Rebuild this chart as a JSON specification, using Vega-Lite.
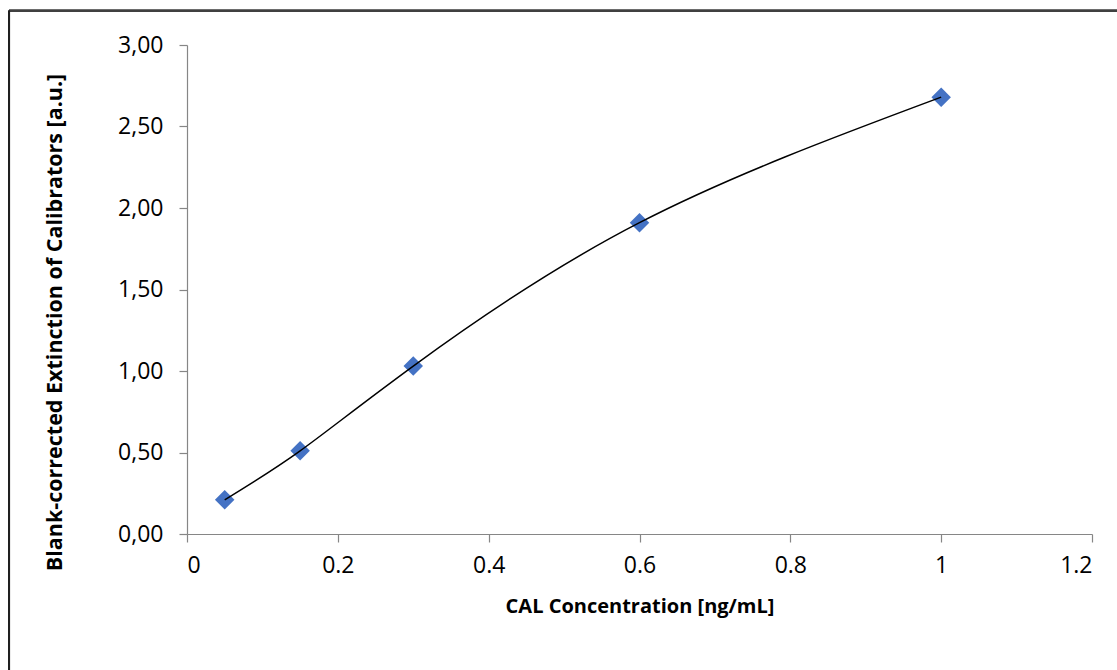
{
  "$schema": "https://vega.github.io/schema/vega-lite/v6.json",
  "autosize": "none",
  "width": 905,
  "height": 489,
  "padding": {"left": 187, "top": 45, "right": 25, "bottom": 136},
  "background": "white",
  "config": {
    "view": {"stroke": null},
    "font": "Open Sans",
    "axis": {
      "grid": false,
      "domainColor": "#868686",
      "domainWidth": 1.2,
      "tickColor": "#868686",
      "tickWidth": 1.2,
      "tickSize": 8,
      "labelFont": "Open Sans",
      "labelFontSize": 23,
      "labelColor": "#000000",
      "titleFont": "Open Sans",
      "titleFontSize": 20,
      "titleFontWeight": "bold",
      "titleColor": "#000000"
    }
  },
  "data": {
    "values": [
      {"conc": 0.05, "ext": 0.21},
      {"conc": 0.15, "ext": 0.51},
      {"conc": 0.3, "ext": 1.03},
      {"conc": 0.6, "ext": 1.91},
      {"conc": 1.0, "ext": 2.68}
    ]
  },
  "layer": [
    {
      "mark": {"type": "rule", "color": "#404040", "strokeWidth": 2},
      "encoding": {
        "x": {"datum": -0.236, "type": "quantitative", "scale": {"domain": [0, 1.2]}},
        "y": {"datum": 3.21, "type": "quantitative"},
        "x2": {"datum": 1.6}
      }
    },
    {
      "mark": {"type": "rule", "color": "#202020", "strokeWidth": 2},
      "encoding": {
        "x": {"datum": -0.236, "type": "quantitative"},
        "y": {"datum": 3.21, "type": "quantitative"},
        "y2": {"datum": -1}
      }
    },
    {
      "mark": {"type": "point", "shape": "diamond", "filled": true, "size": 380, "color": "#4472C4", "opacity": 1},
      "encoding": {
        "x": {
          "field": "conc", "type": "quantitative",
          "scale": {"domain": [0, 1.2], "nice": false, "zero": false},
          "axis": {
            "title": "CAL Concentration [ng/mL]",
            "values": [0, 0.2, 0.4, 0.6, 0.8, 1, 1.2],
            "format": "~g",
            "labelPadding": 12,
            "titlePadding": 19
          }
        },
        "y": {
          "field": "ext", "type": "quantitative",
          "scale": {"domain": [0, 3], "nice": false},
          "axis": {
            "title": "Blank-corrected Extinction of Calibrators [a.u.]",
            "values": [0, 0.5, 1, 1.5, 2, 2.5, 3],
            "labelExpr": "replace(format(datum.value, '.2f'), '.', ',')",
            "labelPadding": 16,
            "titlePadding": 51,
            "titleFontSize": 21.5,
            "titleY": 277
          }
        }
      }
    },
    {
      "mark": {"type": "line", "color": "#000000", "strokeWidth": 1.5, "interpolate": "natural"},
      "encoding": {
        "x": {"field": "conc", "type": "quantitative"},
        "y": {"field": "ext", "type": "quantitative"}
      }
    }
  ]
}
